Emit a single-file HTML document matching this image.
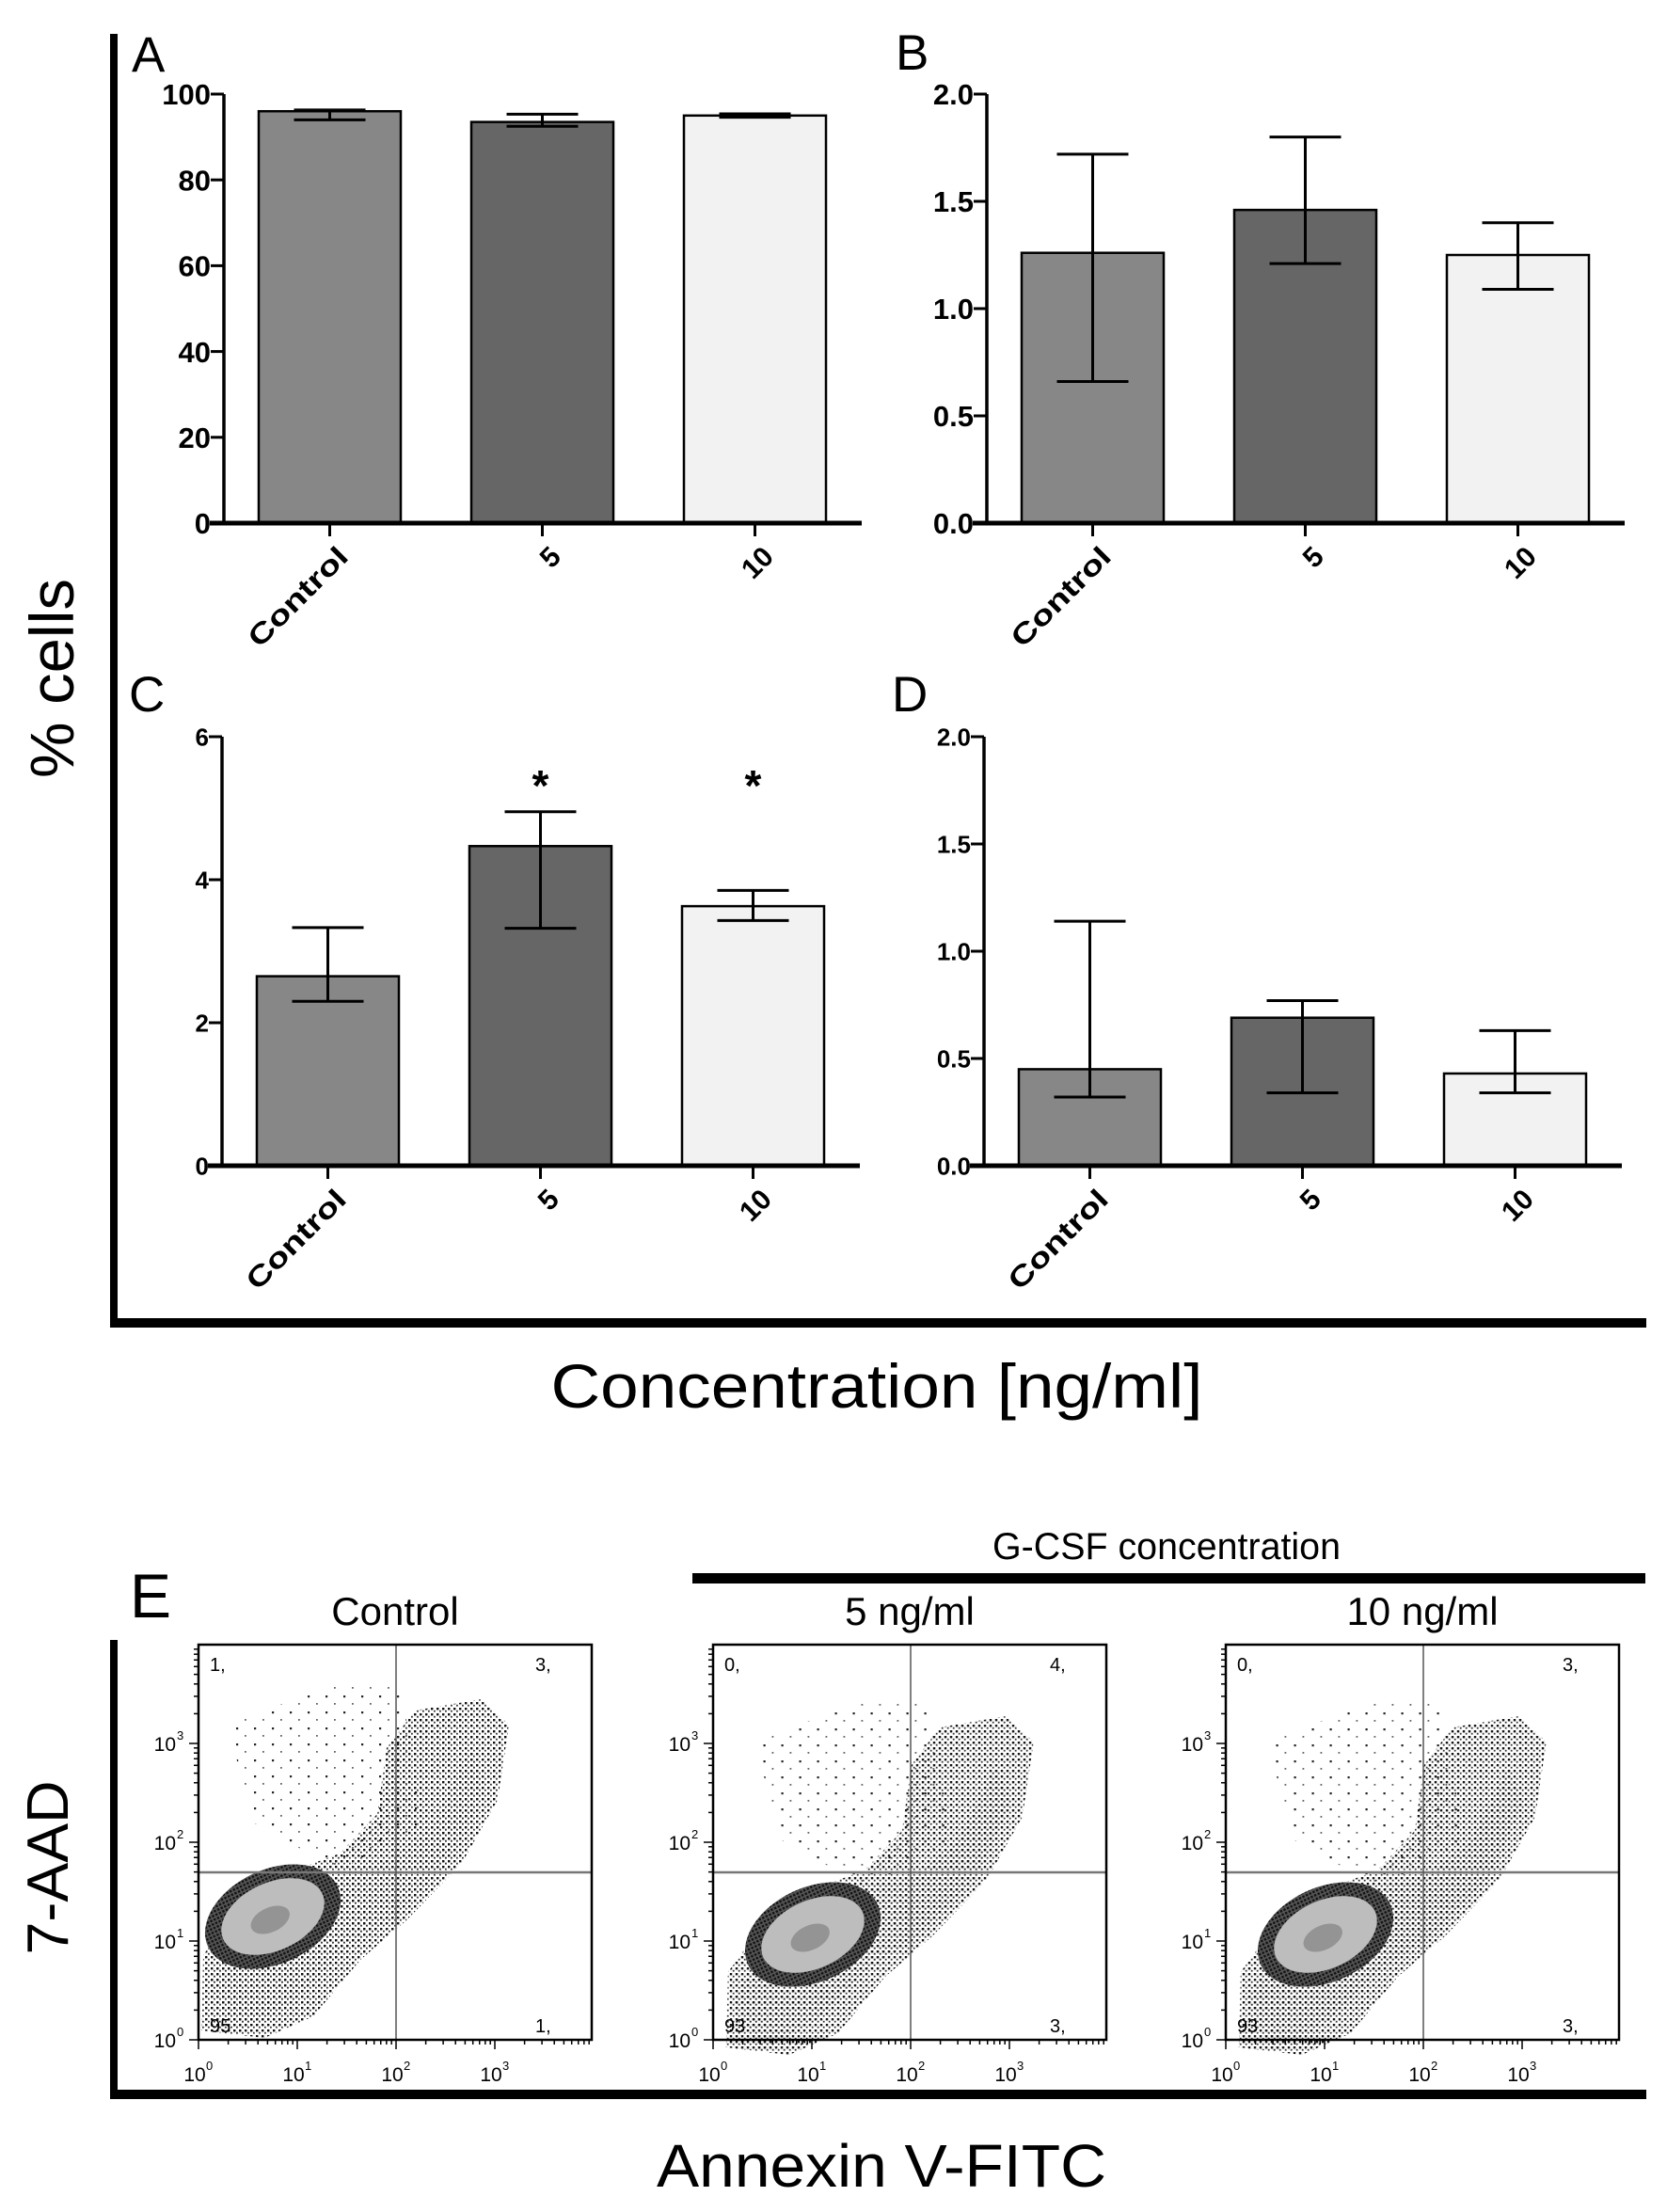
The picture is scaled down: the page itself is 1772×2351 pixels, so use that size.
<!DOCTYPE html>
<html><head><meta charset="utf-8"><style>
html,body{margin:0;padding:0;background:#fff}
svg{display:block}
text{font-family:"Liberation Sans",sans-serif}
</style></head><body>
<svg id="fig" xmlns="http://www.w3.org/2000/svg" width="1772" height="2351" viewBox="0 0 1772 2351">
<defs>
<pattern id="dots" width="6" height="6" patternUnits="userSpaceOnUse"><rect x="1" y="1" width="2.4" height="2.4" fill="#111"/><rect x="4" y="3.8" width="1.8" height="1.8" fill="#333"/></pattern>
<pattern id="dense" width="4" height="4" patternUnits="userSpaceOnUse"><rect width="4" height="4" fill="#555"/><rect x="0.5" y="0.5" width="2.4" height="2.4" fill="#111"/></pattern>
<pattern id="sparse" width="19" height="17" patternUnits="userSpaceOnUse"><rect x="2" y="3" width="2.2" height="2.2" fill="#222"/><rect x="11" y="11" width="1.8" height="1.8" fill="#666"/></pattern>
</defs>
<rect x="117" y="36" width="8" height="1375" fill="#000"/>
<rect x="117" y="1401" width="1633" height="10" fill="#000"/>
<text transform="translate(78,721) rotate(-90)" text-anchor="middle" font-size="66" textLength="212" lengthAdjust="spacingAndGlyphs">% cells</text>
<text x="932" y="1496" text-anchor="middle" font-size="66" textLength="693" lengthAdjust="spacingAndGlyphs">Concentration [ng/ml]</text>
<g id="bars"></g>
<rect x="117" y="1743" width="8" height="488" fill="#000"/>
<rect x="117" y="2221" width="1633" height="10" fill="#000"/>
<text x="138" y="1719" font-size="66">E</text>
<rect x="736" y="1672" width="1013" height="11" fill="#000"/>
<text x="1240" y="1657" text-anchor="middle" font-size="40" textLength="370" lengthAdjust="spacingAndGlyphs">G-CSF concentration</text>
<text transform="translate(72,1985) rotate(-90)" text-anchor="middle" font-size="62" textLength="185" lengthAdjust="spacingAndGlyphs">7-AAD</text>
<text x="937" y="2324" text-anchor="middle" font-size="64" textLength="478" lengthAdjust="spacingAndGlyphs">Annexin V-FITC</text>
<g id="flow"></g>
</svg>
<script>
const NS="http://www.w3.org/2000/svg";
const categories=["Control","5","10"];
const valuesA=[96,93.5,95], lowA=[94,92.5,94.6], highA=[96.3,95.3,95.4];
const valuesB=[1.26,1.46,1.25], lowB=[0.66,1.21,1.09], highB=[1.72,1.80,1.40];
const valuesC=[2.65,4.47,3.63], lowC=[2.30,3.32,3.43], highC=[3.33,4.95,3.85];
const valuesD=[0.45,0.69,0.43], lowD=[0.32,0.34,0.34], highD=[1.14,0.77,0.63];
const ticksA=[0,20,40,60,80,100], ticksB=[0,0.5,1.0,1.5,2.0], ticksC=[0,2,4,6], ticksD=[0,0.5,1.0,1.5,2.0];
const sigC=[false,true,true];
const flowTitles=["Control","5 ng/ml","10 ng/ml"];
const quadUL=["1,","0,","0,"], quadUR=["3,","4,","3,"], quadLL=["95","93","93"], quadLR=["1,","3,","3,"];
const decadeLabels=["0","1","2","3"];

function el(tag,attrs,parent,txt){const e=document.createElementNS(NS,tag);for(const k in attrs)e.setAttribute(k,attrs[k]);if(txt!==undefined)e.textContent=txt;parent.appendChild(e);return e;}
const fills=["#878787","#666666","#f2f2f2"];
const barsG=document.getElementById('bars');

function panel(id,label,ax,top,vals,lo,hi,ticks,ymax,fmt,tickFont,lx,ly,sig){
  const g=el('g',{},barsG);
  
  
  const bottom=top+456;
  const y=v=>bottom-(v/ymax)*456;
  const x=i=>ax+37+i*226;
  const bw=151;
  const lt=el('text',{x:lx,y:ly,'font-size':53},g,label);
  
  
  vals.forEach((v,i)=>{
    const r=el('rect',{x:x(i),y:y(v),width:bw,height:bottom-y(v),fill:fills[i],stroke:'#000','stroke-width':2.5},g);
    
    
    const cx=x(i)+bw/2;
    const eb=el('path',{d:`M${cx} ${y(lo[i])}V${y(hi[i])}M${cx-38} ${y(lo[i])}H${cx+38}M${cx-38} ${y(hi[i])}H${cx+38}`,stroke:'#000','stroke-width':3,fill:'none'},g);
    
    
    if(sig&&sig[i]){const s=el('text',{x:cx,y:top+68,'text-anchor':'middle','font-size':46,'font-weight':'bold'},g,'*');
      
      }
    el('line',{x1:cx,x2:cx,y1:bottom,y2:bottom+14,stroke:'#000','stroke-width':3},g);
    const tl=el('text',{transform:`translate(${cx+14},${bottom+30}) rotate(-45)`,'text-anchor':'end','font-size':30,'font-weight':'bold',dy:'0.35em'},g,categories[i]);
    if(categories[i]==='Control'){tl.setAttribute('textLength','136');tl.setAttribute('lengthAdjust','spacingAndGlyphs');}
    
    
  });
  const ya=el('line',{x1:ax,x2:ax,y1:top,y2:bottom,stroke:'#000','stroke-width':3.5},g);
  
  
  const xa=el('line',{x1:ax-15,x2:ax+678,y1:bottom,y2:bottom,stroke:'#000','stroke-width':5},g);
  
  
  ticks.forEach(t=>{
    el('line',{x1:ax-14,x2:ax,y1:y(t),y2:y(t),stroke:'#000','stroke-width':3},g);
    const tt=el('text',{x:ax-14,y:y(t),'text-anchor':'end','font-size':tickFont,'font-weight':'bold',dy:'0.36em'},g,fmt(t));
    
    
  });
}
const f0=t=>String(t), f1=t=>t.toFixed(1);
panel('a','A',238,100,valuesA,lowA,highA,ticksA,100,f0,31,140,76);
panel('b','B',1049,100,valuesB,lowB,highB,ticksB,2,f1,31,952,74);
panel('c','C',236,783,valuesC,lowC,highC,ticksC,6,f0,26,137,756,sigC);
panel('d','D',1046,783,valuesD,lowD,highD,ticksD,2,f1,26,948,756);

const flowG=document.getElementById('flow');
const boxX=[211,758,1303];
const BT=1748, BW=418, BH=420, DEC=105;
flowTitles.forEach((t,i)=>{
  const g=el('g',{transform:`translate(${boxX[i]},${BT})`},flowG);
  
  
  const dx=i===0?0:27, dy=i===0?0:18;
  el('path',{d:`M30 85 L150 40 L215 45 L240 190 L150 240 L60 190 Z`,fill:'url(#sparse)',transform:`translate(${dx*0.5},${dy})`},g);
  el('path',{d:'M3 410 L5 330 L60 255 L150 222 L190 180 L200 110 L230 70 L300 58 L330 85 L318 165 L280 232 L222 292 L172 335 L122 395 L70 418 Z',fill:'url(#dots)',transform:`translate(${dx*0.4},${dy})`},g);
  el('path',{d:'M10 360 L60 270 L140 240 L200 230 L250 190 L290 110 L305 150 L270 230 L210 290 L150 330 L100 380 L40 415 Z',fill:'url(#dots)',opacity:'0.7',transform:`translate(${dx*0.4},${dy})`},g);
  const ex=(i===0?79:106), ey=(i===0?289:308);
  el('ellipse',{cx:ex,cy:ey,rx:76,ry:50,fill:'url(#dense)',transform:`rotate(-25 ${ex} ${ey})`},g);
  el('ellipse',{cx:ex,cy:ey,rx:58,ry:36,fill:'#bdbdbd',transform:`rotate(-25 ${ex} ${ey})`},g);
  el('ellipse',{cx:ex-4,cy:ey+2,rx:22,ry:13,fill:'#949494',transform:`rotate(-25 ${ex} ${ey})`},g);
  el('line',{x1:0,x2:BW,y1:242,y2:242,stroke:'#777','stroke-width':2.5},g);
  el('line',{x1:210,x2:210,y1:0,y2:BH,stroke:'#555','stroke-width':1.5},g);
  el('rect',{x:0,y:0,width:BW,height:BH,fill:'none',stroke:'#000','stroke-width':2.5},g);
  for(let d=0;d<4;d++){for(let m=1;m<10;m++){const o=Math.log10(m)*DEC+d*DEC;if(o>BH)continue;
    const L=m===1?10:5;
    el('line',{x1:-L,x2:0,y1:BH-o,y2:BH-o,stroke:'#000','stroke-width':1.5},g);
    if(o<=BW)el('line',{x1:o,x2:o,y1:BH,y2:BH+L,stroke:'#000','stroke-width':1.5},g);}}
  decadeLabels.forEach((p,k)=>{
    const yl=el('text',{x:-24,y:BH-k*DEC+8,'text-anchor':'end','font-size':21},g,'10');
    
    
    el('text',{x:-23,y:BH-k*DEC-4,'font-size':13},g,p);
    const xl=el('text',{x:k*DEC-4,y:BH+44,'text-anchor':'middle','font-size':21},g,'10');
    
    
    el('text',{x:k*DEC+8,y:BH+32,'font-size':13},g,p);
  });
  const q=[[12,28,quadUL[i]],[BW-60,28,quadUR[i]],[12,BH-8,quadLL[i]],[BW-60,BH-8,quadLR[i]]];
  q.forEach(a=>{const qt=el('text',{x:a[0],y:a[1],'font-size':20},g,a[2]);
    
    });
  const tt=el('text',{x:BW/2,y:-21,'text-anchor':'middle','font-size':42},g,t);
  
  
});
</script>
</body></html>
